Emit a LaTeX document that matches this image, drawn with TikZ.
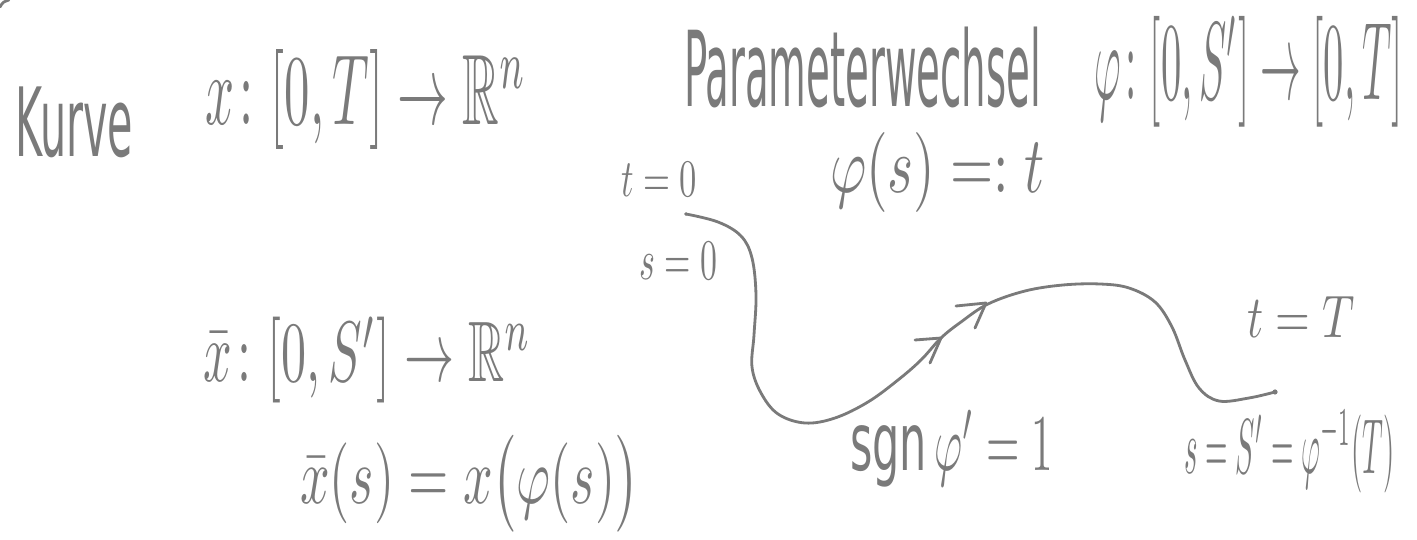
\documentclass[tikz,border=0pt]{standalone}
\usepackage{amsmath,amssymb}
\usepackage{graphicx}
\usepackage{fontspec}
\setmainfont{DejaVu Sans}
\definecolor{ink}{RGB}{122,122,122}
\newlength\upx
\setlength\upx{0.01cm}
\tikzset{
  hw/.style={inner sep=0pt, outer sep=0pt, anchor=north west, text=ink},
  curveline/.style={draw=ink, line width=0.8pt, line cap=round, line join=round},
  chev/.style={draw=ink, line width=0.8pt, line cap=round, line join=round},
}
\newcommand\hwtext[6]{\node[hw] (#1) at (#2,#3) {\resizebox*{#4\upx}{#5\upx}{#6}};}
\begin{document}
\begin{tikzpicture}[x=0.01cm,y=-0.01cm]
\useasboundingbox (0,0) rectangle (1417,540);
% small remnant stroke at the corner
\draw[chev] (0,7) .. controls (3,2) .. (9,0);
% texts
\hwtext{kurve}{15}{87}{118}{71}{Kurve}
\hwtext{xmap}{205}{50}{322}{100}{$x\colon[0,T]\to\mathbb{R}^{n}$}
\hwtext{param}{684}{27}{357}{81}{Parameterwechsel}
\hwtext{phimap}{1094}{16}{309}{111}{$\varphi\colon[0,S']\to[0,T]$}
\hwtext{phidef}{830}{133}{215}{80}{$\varphi(s)=:t$}
\hwtext{tzero}{621}{163}{76}{34}{$t=0$}
\hwtext{szero}{639}{243}{78}{37}{$s=0$}
\hwtext{xbarmap}{203}{317}{329}{86}{$\bar{x}\colon[0,S']\to\mathbb{R}^{n}$}
\hwtext{xbardef}{300}{435}{339}{97}{$\bar{x}(s)=x\bigl(\varphi(s)\bigr)$}
\hwtext{tT}{1247}{297}{108}{41}{$t=T$}
\hwtext{sgn}{850}{410}{203}{77}{$\operatorname{sgn}\varphi'=1$}
\hwtext{sS}{1184}{410}{211}{83}{$s=S'=\varphi^{-1}(T)$}
% the curve
\coordinate (cstart) at (686,214);
\coordinate (cend) at (1275,392);
\draw[curveline] plot[smooth, tension=0.6] coordinates {
  (cstart) (718,222) (741,236) (752,258) (756,295) (754,335) (752,367)
  (761,393) (778,414) (805,423) (835,418) (868,402) (898,380) (921,360)
  (941,338) (961,322) (988,304) (1025,291) (1063,285) (1100,284) (1129,288)
  (1155,302) (1172,327) (1185,360) (1199,388) (1219,401) (1249,398) (cend)};
\fill[ink] (cstart) circle (1.8);
\fill[ink] (cend) circle (2.6);
% direction chevrons
\coordinate (a1) at (941,338);
\coordinate (a2) at (986,303);
\draw[chev] (915,340) -- (a1) -- (930,363);
\draw[chev] (956,306) -- (a2) -- (975,328);
\end{tikzpicture}
\end{document}
